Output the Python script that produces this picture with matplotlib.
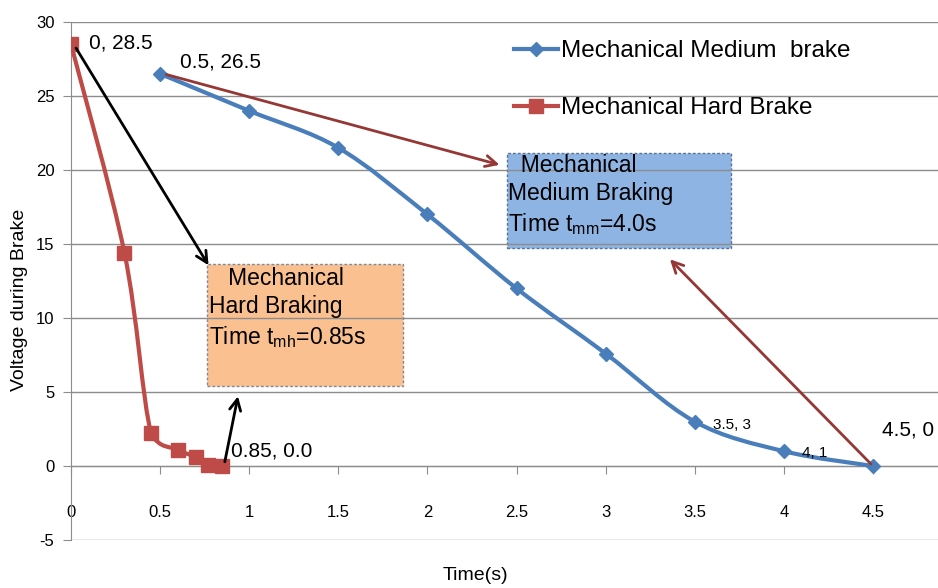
import matplotlib
matplotlib.use('Agg')
import matplotlib.pyplot as plt
from matplotlib.path import Path
from matplotlib.patches import PathPatch, Rectangle
from matplotlib.lines import Line2D
from matplotlib import font_manager
import numpy as np

# braking curves
medium_t = [0.5, 1.0, 1.5, 2.0, 2.5, 3.0, 3.5, 4.0, 4.5]
medium_v = [26.5, 24.0, 21.5, 17.0, 12.0, 7.6, 3.0, 1.0, 0.0]
hard_t = [0.0, 0.3, 0.45, 0.6, 0.7, 0.77, 0.85]
hard_v = [28.5, 14.4, 2.2, 1.1, 0.6, 0.1, 0.0]

x_ticks = [0, 0.5, 1, 1.5, 2, 2.5, 3, 3.5, 4, 4.5]
x_tick_labels = ['0', '0.5', '1', '1.5', '2', '2.5', '3', '3.5', '4', '4.5']
y_ticks = [-5, 0, 5, 10, 15, 20, 25, 30]

names = set(f.name for f in font_manager.fontManager.ttflist)
narrow = 'Liberation Sans Narrow' if 'Liberation Sans Narrow' in names else 'Liberation Sans'
plt.rcParams['font.family'] = ['Liberation Sans', 'DejaVu Sans']

BLUE = '#4a7ebb'
RED = '#be4b48'
DARKRED = '#953735'


def smooth_path(xs, ys, k=1 / 6):
    # bezier through the points (smoothed line), control points kept inside
    # each segment's y range so the curve never overshoots
    xs, ys = np.asarray(xs, float), np.asarray(ys, float)
    n = len(xs)
    verts = [(xs[0], ys[0])]
    codes = [Path.MOVETO]
    for i in range(n - 1):
        p0 = np.array([xs[max(i - 1, 0)], ys[max(i - 1, 0)]])
        p1 = np.array([xs[i], ys[i]])
        p2 = np.array([xs[i + 1], ys[i + 1]])
        p3 = np.array([xs[min(i + 2, n - 1)], ys[min(i + 2, n - 1)]])
        c1 = p1 + (p2 - p0) * k
        c2 = p2 - (p3 - p1) * k
        lo, hi = min(p1[1], p2[1]), max(p1[1], p2[1])
        c1[1] = np.clip(c1[1], lo, hi)
        c2[1] = np.clip(c2[1], lo, hi)
        verts += [tuple(c1), tuple(c2), tuple(p2)]
        codes += [Path.CURVE4] * 3
    return Path(verts, codes)


fig = plt.figure(figsize=(9.38, 5.88), dpi=100)
ax = fig.add_axes([71 / 938, 1 - 540 / 588, 1 - 71 / 938, (540 - 22) / 588])
ax.set_xlim(0, (938 - 71) / 178.2)
ax.set_ylim(-5, 30)

ax.set_axisbelow('line')
ax.yaxis.grid(True, color='#8c8c8c', lw=1.0)
for s in ['top', 'right']:
    ax.spines[s].set_visible(False)
ax.spines['bottom'].set_position(('data', 0))
ax.spines['bottom'].set_color('#8c8c8c')
ax.spines['left'].set_color('#8c8c8c')
ax.set_xticks(x_ticks)
ax.set_xticklabels(x_tick_labels, family=narrow, fontsize=12)
ax.set_yticks(y_ticks)
ax.set_yticklabels([str(v) for v in y_ticks], family=narrow, fontsize=12)
ax.tick_params(axis='x', length=6, pad=22, color='#8c8c8c')
ax.tick_params(axis='y', length=6, pad=6, color='#8c8c8c')

# curves
ax.add_patch(PathPatch(smooth_path(medium_t, medium_v), fill=False, ec=BLUE, lw=3, zorder=3,
                       transform=ax.transData))
ax.plot(medium_t, medium_v, ls='none', marker='D', ms=7, color=BLUE, zorder=4)
ax.add_patch(PathPatch(smooth_path(hard_t, hard_v), fill=False, ec=RED, lw=3, zorder=3,
                       transform=ax.transData))
ax.plot(hard_t, hard_v, ls='none', marker='s', ms=10, color=RED, zorder=4)

# annotation boxes
ax.add_patch(Rectangle((0.763, 5.4), 1.1, 8.25, fc='#fac090', ec='#7f8a99', ls=(0, (2, 1.5)),
                       lw=1, zorder=0.5))
ax.add_patch(Rectangle((2.447, 14.73), 1.257, 6.42, fc='#8db4e2', ec='#5a7394', ls=(0, (2, 1.5)),
                       lw=1, zorder=0.5))
ax.text(0.772, 13.45, '   Mechanical\nHard Braking\nTime t$_{\\mathregular{mh}}$=0.85s', family=narrow,
        fontsize=16.5, va='top', ha='left', linespacing=1.3, zorder=5)
ax.text(2.452, 21.1, '  Mechanical\nMedium Braking\nTime t$_{\\mathregular{mm}}$=4.0s', family=narrow,
        fontsize=16.5, va='top', ha='left', linespacing=1.3, zorder=5)

# arrows
arr = dict(arrowstyle='->,head_length=0.8,head_width=0.4', lw=2)
ax.annotate('', xy=(0.78, 13.4), xytext=(0.02, 28.4), arrowprops=dict(arr, color='black'), zorder=6)
ax.annotate('', xy=(0.94, 4.9), xytext=(0.86, 0.1), arrowprops=dict(arr, color='black'), zorder=6)
ax.annotate('', xy=(2.42, 20.3), xytext=(0.52, 26.5), arrowprops=dict(arr, color=DARKRED), zorder=6)
ax.annotate('', xy=(3.35, 14.1), xytext=(4.5, 0.0), arrowprops=dict(arr, color=DARKRED), zorder=6)

# point labels
ax.text(0.1, 28.6, '0, 28.5', family=narrow, fontsize=15, va='center')
ax.text(0.61, 27.3, '0.5, 26.5', family=narrow, fontsize=15, va='center')
ax.text(0.9, 1.0, '0.85, 0.0', family=narrow, fontsize=15, va='center')
ax.text(3.6, 2.8, '3.5, 3', family=narrow, fontsize=11, va='center')
ax.text(4.1, 0.9, '4, 1', family=narrow, fontsize=11, va='center')
ax.text(4.55, 2.4, '4.5, 0', family=narrow, fontsize=15, va='center')

handles = [Line2D([], [], color=BLUE, lw=3, marker='D', ms=7),
           Line2D([], [], color=RED, lw=3, marker='s', ms=10)]
ax.legend(handles, ['Mechanical Medium  brake', 'Mechanical Hard Brake'], loc='upper left',
          bbox_to_anchor=(0.49, 1.0), frameon=False, fontsize=17.5, handlelength=1.8,
          handletextpad=0.15, labelspacing=1.45, borderaxespad=0.35)

ax.set_xlabel('Time(s)', family=narrow, fontsize=14, labelpad=0, va='center')
ax.xaxis.set_label_coords((475 - 71) / 867, -(575 - 540) / 518)
ax.set_ylabel('Voltage during Brake', fontsize=14, va='center')
ax.yaxis.set_label_coords(-(71 - 20) / 867, (540 - 300) / 518)

fig.savefig('out.png', dpi=100)
